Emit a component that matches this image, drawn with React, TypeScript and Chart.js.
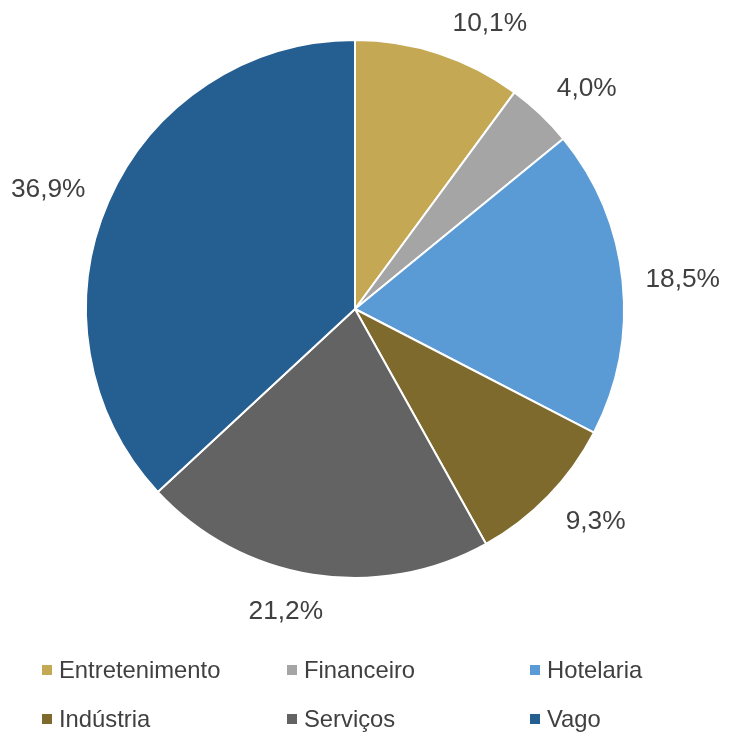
import React, { useEffect, useRef } from "react";
import { Chart, registerables } from "chart.js";

Chart.register(...registerables);

const categories = ["Entretenimento", "Financeiro", "Hotelaria", "Indústria", "Serviços", "Vago"];
const shares = [10.1, 4.0, 18.5, 9.3, 21.2, 36.9];
const colors = ["#C4A853", "#A5A5A5", "#5B9BD5", "#7F6A2D", "#636363", "#255E91"];
// small angular nudges (degrees) for the outside labels, like Excel's best-fit placement
const labelNudgeDeg = [7, 2.8, 0.6, -2.7, 3.9, -2.1];

const FONT = "'Liberation Sans', Arial, sans-serif";
const TEXT = "#404040";

const outsideLabels = {
  id: "outsideLabels",
  afterDatasetsDraw(chart: any) {
    const ctx = chart.ctx;
    const meta = chart.getDatasetMeta(0);
    ctx.save();
    ctx.font = `26.3px ${FONT}`;
    ctx.fillStyle = TEXT;
    ctx.textAlign = "center";
    ctx.textBaseline = "middle";
    meta.data.forEach((arc: any, i: number) => {
      const { x, y, startAngle, endAngle, outerRadius } = arc.getProps(
        ["x", "y", "startAngle", "endAngle", "outerRadius"],
        true
      );
      const mid = (startAngle + endAngle) / 2 + (labelNudgeDeg[i] * Math.PI) / 180;
      const dx = Math.cos(mid);
      const dy = Math.sin(mid);
      const txt = shares[i].toFixed(1).replace(".", ",") + "%";
      const w = ctx.measureText(txt).width;
      const h = 22;
      const ext = Math.abs(dx) * (w / 2) + Math.abs(dy) * (h / 2);
      const d = outerRadius + 22 + ext;
      ctx.fillText(txt, x + dx * d, y + dy * d + 1);
    });
    ctx.restore();
  },
};

const gridLegend = {
  id: "gridLegend",
  afterDraw(chart: any) {
    const ctx = chart.ctx;
    const colX = [42, 287, 530];
    const rowY = [670, 719];
    ctx.save();
    ctx.font = `23.8px ${FONT}`;
    ctx.textBaseline = "middle";
    ctx.textAlign = "left";
    categories.forEach((c, i) => {
      const cx = colX[i % 3];
      const cy = rowY[Math.floor(i / 3)];
      ctx.fillStyle = colors[i];
      ctx.fillRect(cx, cy - 5, 10, 10);
      ctx.fillStyle = TEXT;
      ctx.fillText(c, cx + 17, cy + 1);
    });
    ctx.restore();
  },
};

export default function App() {
  const ref = useRef<HTMLCanvasElement>(null);
  useEffect(() => {
    document.body.style.margin = "0";
    const chart = new Chart(ref.current!, {
      type: "pie",
      data: {
        labels: categories,
        datasets: [
          {
            data: shares,
            backgroundColor: colors,
            borderColor: "#FFFFFF",
            borderWidth: 2,
          },
        ],
      },
      options: {
        animation: false,
        responsive: false,
        devicePixelRatio: 1,
        layout: { padding: { left: 85, right: 106, top: 39, bottom: 154 } },
        plugins: {
          legend: { display: false },
          tooltip: { enabled: false },
        },
      },
      plugins: [outsideLabels, gridLegend],
    });
    return () => chart.destroy();
  }, []);
  return (
    <div style={{ position: "absolute", left: 0, top: 0, width: 731, height: 733, background: "#fff" }}>
      <canvas ref={ref} width={731} height={733} />
    </div>
  );
}
